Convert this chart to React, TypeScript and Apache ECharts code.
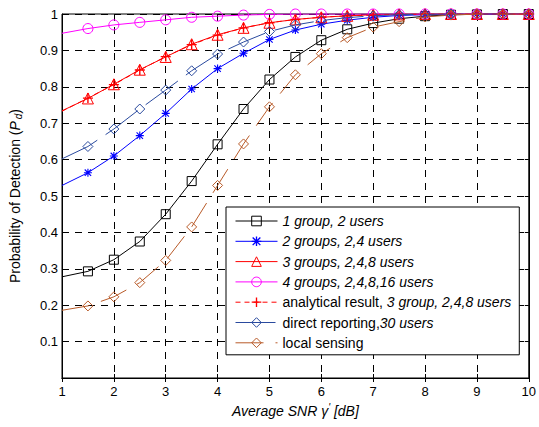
import React, { useEffect, useRef } from "react";
import * as echarts from "echarts";

const snr = [1, 1.5, 2, 2.5, 3, 3.5, 4, 4.5, 5, 5.5, 6, 6.5, 7, 7.5, 8, 8.5, 9, 9.5, 10];
const oneGroup = [0.278, 0.293, 0.325, 0.375, 0.45, 0.541, 0.642, 0.739, 0.82, 0.882, 0.928, 0.958, 0.975, 0.987, 0.994, 0.998, 0.999, 1, 1];
const twoGroups = [0.529, 0.564, 0.61, 0.666, 0.727, 0.794, 0.85, 0.892, 0.93, 0.956, 0.972, 0.983, 0.991, 0.996, 0.998, 0.999, 1, 1, 1];
const threeGroups = [0.734, 0.768, 0.807, 0.847, 0.882, 0.917, 0.943, 0.962, 0.976, 0.985, 0.991, 0.995, 0.998, 0.999, 1, 1, 1, 1, 1];
const fourGroups = [0.947, 0.96, 0.97, 0.977, 0.984, 0.991, 0.994, 0.997, 0.999, 1, 1, 1, 1, 1, 1, 1, 1, 1, 1];
const analytical = [0.733, 0.769, 0.806, 0.846, 0.883, 0.916, 0.942, 0.962, 0.976, 0.985, 0.991, 0.995, 0.997, 0.999, 1, 1, 1, 1, 1];
const directReporting = [0.602, 0.636, 0.684, 0.739, 0.791, 0.844, 0.89, 0.923, 0.952, 0.97, 0.982, 0.99, 0.995, 0.998, 0.999, 1, 1, 1, 1];
const localSensing = [0.186, 0.198, 0.223, 0.262, 0.323, 0.415, 0.529, 0.643, 0.745, 0.833, 0.891, 0.935, 0.964, 0.979, 0.992, 0.997, 1, 1, 1];

const seriesNames = [
  "1 group, 2 users",
  "2 groups, 2,4 users",
  "3 groups, 2,4,8 users",
  "4 groups, 2,4,8,16 users",
  "analytical result, 3 group, 2,4,8 users",
  "direct reporting,30 users",
  "local sensing",
];
const legendRich: Record<string, string> = {
  "1 group, 2 users": "{i|1 group, 2 users}",
  "2 groups, 2,4 users": "{i|2 groups, 2,4 users}",
  "3 groups, 2,4,8 users": "{i|3 groups, 2,4,8 users}",
  "4 groups, 2,4,8,16 users": "{i|4 groups, 2,4,8,16 users}",
  "analytical result, 3 group, 2,4,8 users": "{n|analytical result, }{i|3 group, 2,4,8 users}",
  "direct reporting,30 users": "{n|direct reporting,}{i|30 users}",
  "local sensing": "{n|local sensing}",
};

const FONT = "'Liberation Sans', Arial, Helvetica, sans-serif";
const ASTERISK =
  "path://M4.3,0H5.7V10H4.3Z M0,4.3H10V5.7H0Z M0.5,1.5L1.5,0.5L9.5,8.5L8.5,9.5Z M8.5,0.5L9.5,1.5L1.5,9.5L0.5,8.5Z";
const PLUS = "path://M4.3,0H5.7V4.3H10V5.7H5.7V10H4.3V5.7H0V4.3H4.3Z";

function toData(vals: number[]) {
  return snr.map((x, i) => (i === 0 ? { value: [x, vals[i]], symbol: "none" } : [x, vals[i]]));
}

export default function App() {
  const ref = useRef<HTMLDivElement>(null);
  useEffect(() => {
    document.body.style.margin = "0";
    const chart = echarts.init(ref.current!, null, { renderer: "svg" });
    const mk = (
      name: string,
      vals: number[],
      color: string,
      symbol: string,
      symbolSize: number,
      lineType: any,
      z: number,
      filled = false
    ) => ({
      name,
      type: "line",
      data: toData(vals),
      symbol,
      symbolSize,
      z,
      lineStyle: { color, width: 1, type: lineType },
      itemStyle: filled
        ? { color, borderWidth: 0 }
        : { color: "rgba(255,255,255,0)", borderColor: color, borderWidth: 1 },
      emphasis: { disabled: true },
    });
    chart.setOption({
      animation: false,
      backgroundColor: "#fff",
      grid: {
        left: 62,
        right: 5.5,
        top: 14,
        bottom: 49,
        show: true,
        borderColor: "#000",
        borderWidth: 1,
      },
      legend: {
        show: true,
        orient: "vertical",
        left: 226,
        top: 207,
        selectedMode: false,
        data: seriesNames,
        backgroundColor: "#fff",
        borderColor: "#000",
        borderWidth: 1,
        padding: [7, 8, 5, 9],
        itemGap: 6.3,
        itemWidth: 42,
        itemHeight: 12,
        itemStyle: { borderWidth: 1 },
        lineStyle: { width: 1 },
        formatter: (n: string) => legendRich[n] || n,
        textStyle: {
          fontFamily: FONT,
          fontSize: 14,
          color: "#000",
          rich: {
            i: { fontFamily: FONT, fontSize: 14, fontStyle: "italic", color: "#000", lineHeight: 16 },
            n: { fontFamily: FONT, fontSize: 14, color: "#000", lineHeight: 16 },
          },
        },
      },
      xAxis: [
        {
          type: "value",
          min: 1,
          max: 10,
          interval: 1,
          position: "bottom",
          name: "{i|Average SNR γ}{s|'}{i| [dB]}",
          nameLocation: "middle",
          nameGap: 22,
          nameTextStyle: {
            rich: {
              i: { fontFamily: FONT, fontSize: 14, fontStyle: "italic", color: "#000" },
              s: { fontFamily: FONT, fontSize: 10, fontStyle: "italic", color: "#000", verticalAlign: "top", padding: [0, 0, 6, 0] },
            },
          },
          axisLine: { lineStyle: { color: "#000", width: 1 } },
          axisTick: { inside: true, length: 4, lineStyle: { color: "#000" } },
          axisLabel: { margin: 7, fontFamily: FONT, fontSize: 13, color: "#000" },
          splitLine: { show: true, lineStyle: { color: "#000", type: [7, 6], width: 1 } },
        },
        {
          type: "value",
          min: 1,
          max: 10,
          interval: 1,
          position: "top",
          axisLine: { lineStyle: { color: "#000", width: 1 } },
          axisTick: { inside: true, length: 4, lineStyle: { color: "#000" } },
          axisLabel: { show: false },
          splitLine: { show: false },
        },
      ],
      yAxis: [
        {
          type: "value",
          min: 0,
          max: 1,
          interval: 0.1,
          position: "left",
          name: "{n|Probability of Detection (}{i|P}{d|d}{n|)}",
          nameLocation: "middle",
          nameGap: 39,
          nameTextStyle: {
            rich: {
              n: { fontFamily: FONT, fontSize: 14, color: "#000" },
              i: { fontFamily: FONT, fontSize: 14, fontStyle: "italic", color: "#000" },
              d: { fontFamily: FONT, fontSize: 10, fontStyle: "italic", color: "#000", verticalAlign: "bottom", padding: [6, 0, 0, 2] },
            },
          },
          axisLine: { lineStyle: { color: "#000", width: 1 } },
          axisTick: { inside: true, length: 4, lineStyle: { color: "#000" } },
          axisLabel: {
            margin: 4,
            fontFamily: FONT,
            fontSize: 13,
            color: "#000",
            formatter: (v: number) => (v === 0 ? "" : String(Math.round(v * 10) / 10)),
          },
          splitLine: { show: true, lineStyle: { color: "#000", type: [7, 6], width: 1 } },
        },
        {
          type: "value",
          min: 0,
          max: 1,
          interval: 0.1,
          position: "right",
          axisLine: { lineStyle: { color: "#000", width: 1 } },
          axisTick: { inside: true, length: 4, lineStyle: { color: "#000" } },
          axisLabel: { show: false },
          splitLine: { show: false },
        },
      ],
      series: [
        mk(seriesNames[0], oneGroup, "#000000", "rect", 9, "solid", 2),
        mk(seriesNames[1], twoGroups, "#0000ff", ASTERISK, 8, "solid", 3, true),
        mk(seriesNames[2], threeGroups, "#ff0000", "triangle", 11, "solid", 4),
        mk(seriesNames[3], fourGroups, "#ff00ff", "circle", 10, "solid", 5),
        mk(seriesNames[4], analytical, "#ff0000", PLUS, 10, [5, 4], 6, true),
        mk(seriesNames[5], directReporting, "#2a4a9e", "diamond", 10, [40, 10], 7),
        mk(seriesNames[6], localSensing, "#b85a28", "diamond", 10, [28, 12], 8),
      ],
    });
    return () => chart.dispose();
  }, []);
  return <div ref={ref} style={{ width: 539, height: 427 }} />;
}
